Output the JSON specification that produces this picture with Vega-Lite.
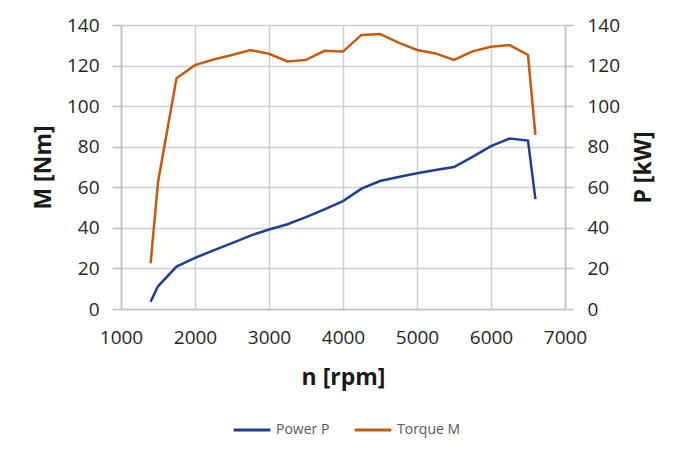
{
  "$schema": "https://vega.github.io/schema/vega-lite/v6.json",
  "width": 444,
  "height": 284,
  "autosize": {"type": "none"},
  "padding": {"left": 121, "top": 25, "right": 120, "bottom": 151},
  "background": "white",
  "config": {
    "font": "Open Sans",
    "view": {"stroke": null},
    "axis": {
      "labelFont": "Open Sans",
      "labelFontSize": 19,
      "labelColor": "#262626",
      "titleFont": "Open Sans",
      "titleFontWeight": "bold",
      "titleColor": "#1a1a1a",
      "domainColor": "#bfbfbf",
      "domainWidth": 1.5,
      "tickColor": "#bfbfbf",
      "tickWidth": 1.5,
      "gridColor": "#d0d0d0",
      "gridWidth": 1.5
    },
    "legend": {
      "labelFont": "Open Sans",
      "labelFontSize": 14,
      "labelColor": "#595959"
    }
  },
  "data": {
    "values": [
      {"rpm": 1400, "series": "Torque M", "value": 22.5},
      {"rpm": 1500, "series": "Torque M", "value": 62.5},
      {"rpm": 1750, "series": "Torque M", "value": 113.8},
      {"rpm": 2000, "series": "Torque M", "value": 120.2},
      {"rpm": 2250, "series": "Torque M", "value": 123},
      {"rpm": 2500, "series": "Torque M", "value": 125.2},
      {"rpm": 2750, "series": "Torque M", "value": 127.6},
      {"rpm": 3000, "series": "Torque M", "value": 125.8},
      {"rpm": 3250, "series": "Torque M", "value": 122},
      {"rpm": 3500, "series": "Torque M", "value": 122.8},
      {"rpm": 3750, "series": "Torque M", "value": 127.3},
      {"rpm": 4000, "series": "Torque M", "value": 126.9},
      {"rpm": 4250, "series": "Torque M", "value": 135.1},
      {"rpm": 4500, "series": "Torque M", "value": 135.6},
      {"rpm": 4750, "series": "Torque M", "value": 131.3},
      {"rpm": 5000, "series": "Torque M", "value": 127.7},
      {"rpm": 5250, "series": "Torque M", "value": 126},
      {"rpm": 5500, "series": "Torque M", "value": 122.8},
      {"rpm": 5750, "series": "Torque M", "value": 127},
      {"rpm": 6000, "series": "Torque M", "value": 129.3},
      {"rpm": 6250, "series": "Torque M", "value": 130.1},
      {"rpm": 6500, "series": "Torque M", "value": 125.2},
      {"rpm": 6600, "series": "Torque M", "value": 85.8},
      {"rpm": 1400, "series": "Power P", "value": 3.6},
      {"rpm": 1500, "series": "Power P", "value": 11.2},
      {"rpm": 1750, "series": "Power P", "value": 20.9},
      {"rpm": 2000, "series": "Power P", "value": 25.2},
      {"rpm": 2250, "series": "Power P", "value": 28.9},
      {"rpm": 2500, "series": "Power P", "value": 32.5},
      {"rpm": 2750, "series": "Power P", "value": 36.2},
      {"rpm": 3000, "series": "Power P", "value": 39.2},
      {"rpm": 3250, "series": "Power P", "value": 41.8},
      {"rpm": 3500, "series": "Power P", "value": 45.3},
      {"rpm": 3750, "series": "Power P", "value": 49.1},
      {"rpm": 4000, "series": "Power P", "value": 53.2},
      {"rpm": 4250, "series": "Power P", "value": 59.3},
      {"rpm": 4500, "series": "Power P", "value": 63.1},
      {"rpm": 4750, "series": "Power P", "value": 65.1},
      {"rpm": 5000, "series": "Power P", "value": 66.9},
      {"rpm": 5250, "series": "Power P", "value": 68.5},
      {"rpm": 5500, "series": "Power P", "value": 70},
      {"rpm": 5750, "series": "Power P", "value": 75},
      {"rpm": 6000, "series": "Power P", "value": 80.3},
      {"rpm": 6250, "series": "Power P", "value": 84},
      {"rpm": 6500, "series": "Power P", "value": 83},
      {"rpm": 6600, "series": "Power P", "value": 54.2}
    ]
  },
  "encoding": {
    "x": {
      "field": "rpm",
      "type": "quantitative",
      "scale": {"domain": [1000, 7000], "nice": false},
      "axis": {
        "title": "n [rpm]",
        "titleFontSize": 23,
        "format": "d",
        "values": [1000, 2000, 3000, 4000, 5000, 6000, 7000],
        "ticks": false,
        "tickSize": 0,
        "labelPadding": 19,
        "labelFlush": false,
        "titleX": 222,
        "titleY": 68,
        "titleBaseline": "middle"
      }
    },
    "color": {
      "field": "series",
      "type": "nominal",
      "scale": {"domain": ["Power P", "Torque M"], "range": ["#203F8F", "#C55A11"]},
      "legend": {
        "title": null,
        "orient": "none",
        "direction": "horizontal",
        "legendX": 111,
        "legendY": 385,
        "symbolType": "stroke",
        "symbolSize": 1350,
        "symbolStrokeWidth": 3,
        "labelOffset": 4,
        "columnPadding": 18
      }
    }
  },
  "layer": [
    {
      "transform": [{"filter": "datum.series === 'Torque M'"}],
      "mark": {"type": "line", "strokeWidth": 2.5},
      "encoding": {
        "y": {
          "field": "value",
          "type": "quantitative",
          "scale": {"domain": [0, 140], "nice": false},
          "axis": {
            "title": "M [Nm]",
            "titleFontSize": 23,
            "orient": "left",
            "values": [0, 20, 40, 60, 80, 100, 120, 140],
            "tickSize": 9,
            "labelPadding": 13,
            "titleAngle": -90,
            "titleX": -78,
            "titleY": 142,
            "titleBaseline": "middle",
            "titleAlign": "center"
          }
        }
      }
    },
    {
      "transform": [{"filter": "datum.series === 'Power P'"}],
      "mark": {"type": "line", "strokeWidth": 2.5},
      "encoding": {
        "y": {
          "field": "value",
          "type": "quantitative",
          "scale": {"domain": [0, 140], "nice": false},
          "axis": {
            "title": "P [kW]",
            "titleFontSize": 23,
            "orient": "right",
            "values": [0, 20, 40, 60, 80, 100, 120, 140],
            "tickSize": 8,
            "labelPadding": 14,
            "grid": false,
            "titleAngle": -90,
            "titleX": 78,
            "titleY": 142,
            "titleBaseline": "middle",
            "titleAlign": "center"
          }
        }
      }
    }
  ],
  "resolve": {"scale": {"y": "independent"}}
}
